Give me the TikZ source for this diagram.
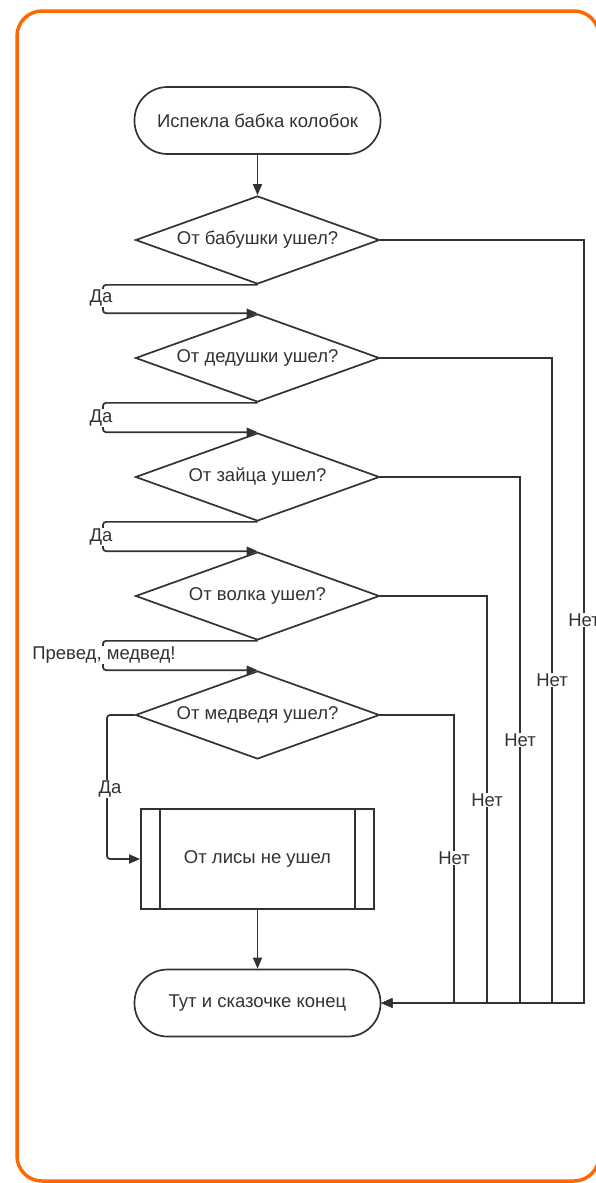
\documentclass[tikz,border=0pt]{standalone}
\usepackage{fontspec}
\setmainfont{Liberation Sans}
\usetikzlibrary{shapes.geometric,arrows.meta}
\definecolor{orng}{RGB}{255,104,0}
\definecolor{ink}{RGB}{50,50,50}
\begin{document}
\begin{tikzpicture}[x=1pt,y=-1pt,
  every node/.style={font=\fontsize{18.5}{22}\selectfont, text=ink},
  shapeline/.style={draw=ink, line width=1.7pt},
  term/.style={shapeline, rectangle, rounded corners=33pt, minimum width=246pt, minimum height=67pt, inner sep=0pt},
  dec/.style={shapeline, diamond, aspect=2.77, minimum width=244pt, minimum height=88pt, inner sep=0pt},
  proc/.style={shapeline, rectangle, minimum width=233pt, minimum height=100pt, inner sep=0pt},
  conn/.style={draw=ink, line width=1.7pt, -{Triangle[length=11pt,width=9pt]}},
  loopconn/.style={conn, rounded corners=3pt},
  lbl/.style={fill=white, inner sep=1pt}]
\useasboundingbox (0,0) rectangle (596,1183);
\draw[orng, line width=3.5pt, rounded corners=25pt] (17,11) rectangle (599,1181);

\node[term] (start) at (257.5,120.5) {Испекла бабка колобок};
\node[dec] (d1) at (257.5,240) {От бабушки ушел?};
\node[dec] (d2) at (257.5,358) {От дедушки ушел?};
\node[dec] (d3) at (257.5,477) {От зайца ушел?};
\node[dec] (d4) at (257.5,596) {От волка ушел?};
\node[dec] (d5) at (257.5,715) {От медведя ушел?};
\node[proc] (fox) at (257.5,859) {От лисы не ушел};
\draw[shapeline] ([xshift=20pt]fox.north west) -- ([xshift=20pt]fox.south west);
\draw[shapeline] ([xshift=-20pt]fox.north east) -- ([xshift=-20pt]fox.south east);
\node[term] (end) at (257.5,1003) {Тут и сказочке конец};

\draw[conn] (start) -- (d1);
\draw[loopconn] (d1.south) -| (103,299) |- (d2.north);
\draw[loopconn] (d2.south) -| (103,418) |- (d3.north);
\draw[loopconn] (d3.south) -| (103,537) |- (d4.north);
\draw[loopconn] (d4.south) -| (103,656) |- (d5.north);
\draw[loopconn] (d5.west) -| (107,787) |- (fox.west);
\draw[conn] (fox) -- (end);

\draw[conn] (d1.east) -| (584,1003) -- (end.east);
\draw[conn] (d2.east) -| (552,1003) -- (end.east);
\draw[conn] (d3.east) -| (520,1003) -- (end.east);
\draw[conn] (d4.east) -| (487,1003) -- (end.east);
\draw[conn] (d5.east) -| (454,1003) -- (end.east);

\node[lbl] (y1) at (101,298) {Да};
\node[lbl] (y2) at (101,418) {Да};
\node[lbl] (y3) at (101,537) {Да};
\node[lbl] (y4) at (104,655) {Превед, медвед!};
\node[lbl] (y5) at (110,789) {Да};

\node[lbl] (n1) at (584,620) {Нет};
\node[lbl] (n2) at (552,680) {Нет};
\node[lbl] (n3) at (520,740) {Нет};
\node[lbl] (n4) at (487,800) {Нет};
\node[lbl] (n5) at (454,858) {Нет};
\end{tikzpicture}
\end{document}
